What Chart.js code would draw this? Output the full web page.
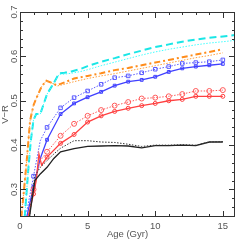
<!DOCTYPE html>
<html>
<head>
<meta charset="utf-8">
<style>
  html, body { margin: 0; padding: 0; background: #fff; }
  canvas { display: block; }
</style>
<script src="https://cdn.jsdelivr.net/npm/chart.js@4/dist/chart.umd.min.js"></script>
</head>
<body>
<canvas id="colourChart" width="240" height="240"></canvas>
<script>
// ages (Gyr) and V-R colours
const cyanAges = [0.35, 0.6, 0.8, 1.0, 1.2, 1.5, 2, 2.5, 2.9, 3.3, 3.8, 4.5, 5, 6, 7, 8, 9, 10, 11, 12, 13, 14, 15, 15.9];
const cyanDash = [0.238, 0.34, 0.41, 0.457, 0.47, 0.47, 0.515, 0.54, 0.562, 0.563, 0.566, 0.572, 0.578, 0.588, 0.596, 0.605, 0.613, 0.621, 0.627, 0.633, 0.638, 0.642, 0.645, 0.648];
const cyanDot = [0.238, 0.34, 0.41, 0.457, 0.47, 0.47, 0.515, 0.54, 0.56, 0.56, 0.562, 0.566, 0.57, 0.579, 0.587, 0.595, 0.603, 0.61, 0.616, 0.621, 0.626, 0.63, 0.633, 0.636];

const orangeAges = [0.1, 0.3, 0.5, 0.75, 1.0, 1.2, 1.6, 1.95, 2.3, 2.7, 3, 4, 5, 6, 7, 8, 9, 10, 11, 12, 13, 14, 15];
const orangeDashDot = [0.238, 0.3, 0.366, 0.456, 0.49, 0.505, 0.532, 0.545, 0.541, 0.535, 0.538, 0.55, 0.556, 0.562, 0.569, 0.574, 0.58, 0.586, 0.592, 0.598, 0.604, 0.61, 0.616];
const orangeDot = [0.238, 0.3, 0.366, 0.456, 0.49, 0.505, 0.532, 0.545, 0.541, 0.533, 0.535, 0.543, 0.55, 0.556, 0.561, 0.567, 0.573, 0.579, 0.585, 0.591, 0.597, 0.602, 0.608];

const blueAges = [0.5, 1, 1.5, 2, 3, 4, 5, 6, 7, 8, 9, 10, 11, 12, 13, 14, 15];
const blueSolid = [0.238, 0.306, 0.37, 0.412, 0.47, 0.494, 0.508, 0.52, 0.534, 0.543, 0.547, 0.554, 0.565, 0.573, 0.577, 0.58, 0.583];
const blueDot = [0.25, 0.33, 0.41, 0.44, 0.484, 0.507, 0.522, 0.537, 0.552, 0.556, 0.563, 0.571, 0.577, 0.584, 0.586, 0.588, 0.592];

const redSolidAges = [0.6, 1, 1.2, 1.4, 1.6, 2, 3, 4, 5, 6, 7, 8, 9, 10, 11, 12, 13, 14, 15];
const redSolid = [0.238, 0.29, 0.32, 0.38, 0.355, 0.373, 0.404, 0.424, 0.452, 0.466, 0.476, 0.483, 0.489, 0.494, 0.5, 0.503, 0.51, 0.51, 0.51];
const redDotAges = [0.6, 1, 1.3, 1.5, 2, 3, 4, 5, 6, 7, 8, 9, 10, 11, 12, 13, 14, 15];
const redDot = [0.238, 0.3, 0.34, 0.365, 0.385, 0.421, 0.448, 0.466, 0.479, 0.489, 0.497, 0.505, 0.507, 0.51, 0.515, 0.522, 0.522, 0.524];

const blackAges = [0.7, 0.9, 1.1, 1.5, 2, 2.5, 3, 4, 5, 6, 7, 8, 9, 10, 11, 12, 13, 14, 15];
const blackSolid = [0.238, 0.28, 0.32, 0.335, 0.35, 0.37, 0.385, 0.392, 0.397, 0.398, 0.399, 0.398, 0.394, 0.399, 0.399, 0.4, 0.399, 0.407, 0.407];
const blackDot = [0.238, 0.29, 0.33, 0.35, 0.365, 0.38, 0.393, 0.41, 0.41, 0.407, 0.406, 0.402, 0.397, 0.4, 0.4, 0.401, 0.4, 0.407, 0.408];

const xTicks = [0, 5, 10, 15];
const yTicks = [0.3, 0.4, 0.5, 0.6, 0.7];

function pts(ages, vals) {
	return ages.map((a, i) => ({x: a, y: vals[i]}));
}

// markers only at whole Gyr
function markAt(r) {
	return ctx => (ctx.raw && Number.isInteger(ctx.raw.x) ? r : 0);
}

function line(data, colour, width, dash, extra) {
	return Object.assign({
		data: data,
		borderColor: colour,
		borderWidth: width,
		borderDash: dash,
		pointRadius: 0,
		fill: false,
		tension: 0
	}, extra || {});
}

// frame with inward ticks on all four sides, and rotated y labels
const frame = {
	id: 'frame',
	afterDatasetsDraw(chart) {
		const {ctx, chartArea: a, scales: {x, y}} = chart;
		ctx.save();
		ctx.strokeStyle = '#333';
		ctx.lineWidth = 1;
		ctx.strokeRect(a.left + 0.5, a.top + 0.5, a.right - a.left - 1, a.bottom - a.top - 1);
		ctx.beginPath();
		for (let i = 0; i <= 15; i++) {
			const px = Math.round(x.getPixelForValue(i)) + 0.5;
			const len = i % 5 === 0 ? 6 : 3;
			ctx.moveTo(px, a.bottom); ctx.lineTo(px, a.bottom - len);
			ctx.moveTo(px, a.top); ctx.lineTo(px, a.top + len);
		}
		for (let i = 12; i <= 35; i++) {
			const py = Math.round(y.getPixelForValue(i / 50)) + 0.5;
			const len = i % 5 === 0 ? 6 : 3;
			ctx.moveTo(a.left, py); ctx.lineTo(a.left + len, py);
			ctx.moveTo(a.right, py); ctx.lineTo(a.right - len, py);
		}
		ctx.stroke();
		ctx.fillStyle = '#555';
		ctx.font = '9.5px "Liberation Sans", Arial, sans-serif';
		ctx.textAlign = 'center';
		ctx.textBaseline = 'middle';
		yTicks.forEach(v => {
			ctx.save();
			ctx.translate(a.left - 6, y.getPixelForValue(v));
			ctx.rotate(-Math.PI / 2);
			ctx.fillText(v.toFixed(1), 0, 0);
			ctx.restore();
		});
		ctx.restore();
	}
};

new Chart(document.getElementById('colourChart'), {
	type: 'line',
	data: {
		datasets: [
			line(pts(blackAges, blackDot), '#333', 1, [1.5, 1.5]),
			line(pts(blackAges, blackSolid), '#222', 1.3, []),
			line(pts(redDotAges, redDot), '#ff5a5a', 1, [1.5, 1.5], {pointRadius: markAt(2.5), pointStyle: 'circle', pointBorderWidth: 1, pointBackgroundColor: 'rgba(0,0,0,0)'}),
			line(pts(redSolidAges, redSolid), '#ff4040', 1.3, [], {pointRadius: markAt(2), pointStyle: 'circle', pointBorderWidth: 1, pointBackgroundColor: 'rgba(0,0,0,0)'}),
			line(pts(blueAges, blueDot), '#5a5aff', 1, [1.5, 1.5], {pointRadius: markAt(2.5), pointStyle: 'rect', pointBorderWidth: 1, pointBackgroundColor: 'rgba(0,0,0,0)'}),
			line(pts(blueAges, blueSolid), '#4040ff', 1.3, [], {pointRadius: markAt(2), pointStyle: 'rect', pointBorderWidth: 1, pointBackgroundColor: 'rgba(0,0,0,0)'}),
			line(pts(orangeAges, orangeDot), '#ffa040', 1, [1.5, 1.5]),
			line(pts(orangeAges, orangeDashDot), '#ff8c1a', 2, [6, 3, 2, 3]),
			line(pts(cyanAges, cyanDot), '#40ffff', 1, [1.5, 1.5]),
			line(pts(cyanAges, cyanDash), '#1ae6e6', 2, [7, 4])
		]
	},
	options: {
		responsive: false,
		animation: false,
		layout: {
			padding: {top: 12, right: 2, left: 0, bottom: 0}
		},
		plugins: {
			legend: {display: false},
			tooltip: {enabled: false}
		},
		scales: {
			x: {
				type: 'linear',
				min: 0,
				max: 15.9,
				afterBuildTicks: s => { s.ticks = xTicks.map(v => ({value: v})); },
				afterFit: s => { s.height = 23; },
				grid: {display: false, drawTicks: false},
				border: {display: false},
				ticks: {
					color: '#555',
					padding: 4,
					font: {family: '"Liberation Sans", Arial, sans-serif', size: 9.5}
				},
				title: {
					display: true,
					text: 'Age (Gyr)',
					color: '#555',
					padding: 0,
					font: {family: '"Liberation Sans", Arial, sans-serif', size: 9.5}
				}
			},
			y: {
				type: 'linear',
				min: 0.238,
				max: 0.7,
				afterBuildTicks: s => { s.ticks = yTicks.map(v => ({value: v})); },
				afterFit: s => { s.width = 20; },
				grid: {display: false, drawTicks: false},
				border: {display: false},
				ticks: {display: false},
				title: {
					display: true,
					text: 'V\u2212R',
					color: '#555',
					padding: 0,
					font: {family: '"Liberation Sans", Arial, sans-serif', size: 9.5}
				}
			}
		}
	},
	plugins: [frame]
});
</script>
</body>
</html>
